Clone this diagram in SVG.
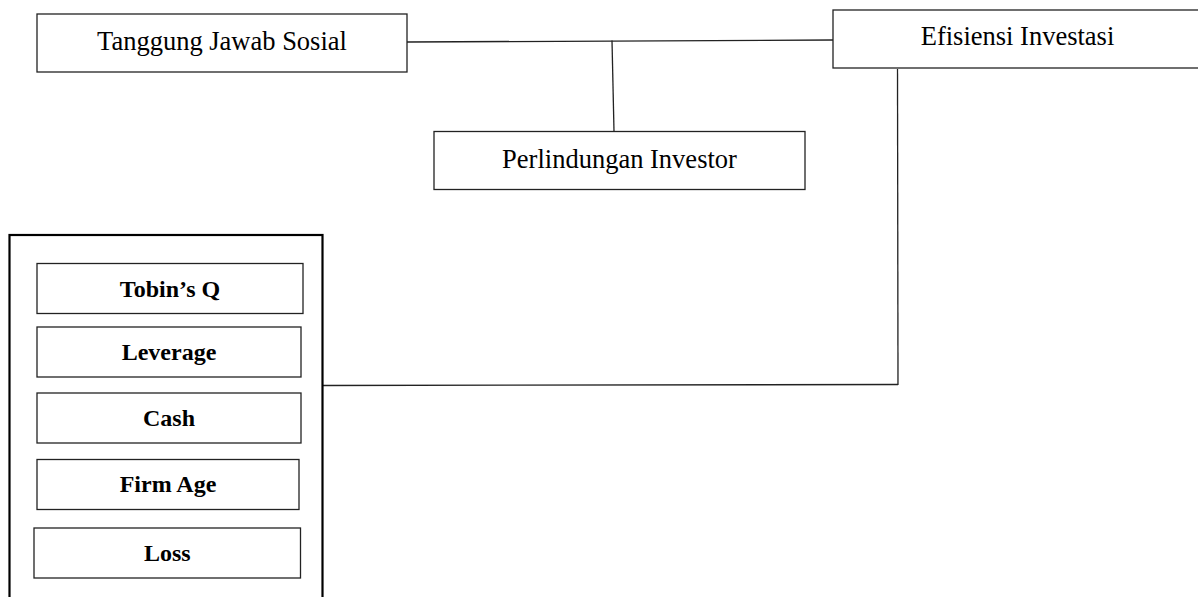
<svg xmlns="http://www.w3.org/2000/svg" width="1198" height="597" viewBox="0 0 1198 597">
<style>
.box{fill:#fff;stroke:#222;stroke-width:1.3}
.outer{fill:#fff;stroke:#000;stroke-width:2.2}
.lbl{font-family:"Liberation Serif","Times New Roman",serif;font-size:26.5px;fill:#000;text-anchor:middle}
.b{font-family:"Liberation Serif","Times New Roman",serif;font-size:24px;font-weight:bold;fill:#000;text-anchor:middle}
.con{fill:none;stroke:#222;stroke-width:1.3}
</style>
<rect x="0" y="0" width="1198" height="597" fill="#fff"/>
<g id="connectors">
<line class="con" x1="407" y1="42" x2="833" y2="40"/>
<line class="con" x1="612" y1="40.5" x2="614" y2="131.5"/>
<line class="con" x1="897.5" y1="69" x2="898" y2="385"/>
<line class="con" x1="322" y1="385.5" x2="898" y2="384.5"/>
</g>
<g id="tanggung-jawab-sosial">
<rect class="box" x="37" y="14" width="370" height="58"/>
<text class="lbl" x="222" y="50">Tanggung Jawab Sosial</text>
</g>
<g id="efisiensi-investasi">
<rect class="box" x="833" y="10" width="380" height="58"/>
<text class="lbl" x="1017.5" y="45">Efisiensi Investasi</text>
</g>
<g id="perlindungan-investor">
<rect class="box" x="434" y="131.5" width="371" height="58"/>
<text class="lbl" x="619.5" y="168">Perlindungan Investor</text>
</g>
<g id="control-variables">
<rect class="outer" x="9.5" y="235" width="313" height="380"/>
<g id="tobins-q">
<rect class="box" x="37" y="263.5" width="266" height="50"/>
<text class="b" x="170" y="296.5">Tobin’s Q</text>
</g>
<g id="leverage">
<rect class="box" x="37" y="327" width="264" height="50"/>
<text class="b" x="169" y="359.5">Leverage</text>
</g>
<g id="cash">
<rect class="box" x="37" y="393" width="264" height="50"/>
<text class="b" x="169" y="425.5">Cash</text>
</g>
<g id="firm-age">
<rect class="box" x="37" y="459.5" width="262" height="50"/>
<text class="b" x="168" y="492">Firm Age</text>
</g>
<g id="loss">
<rect class="box" x="34" y="528" width="266.5" height="50"/>
<text class="b" x="167.3" y="560.5">Loss</text>
</g>
</g>
</svg>
